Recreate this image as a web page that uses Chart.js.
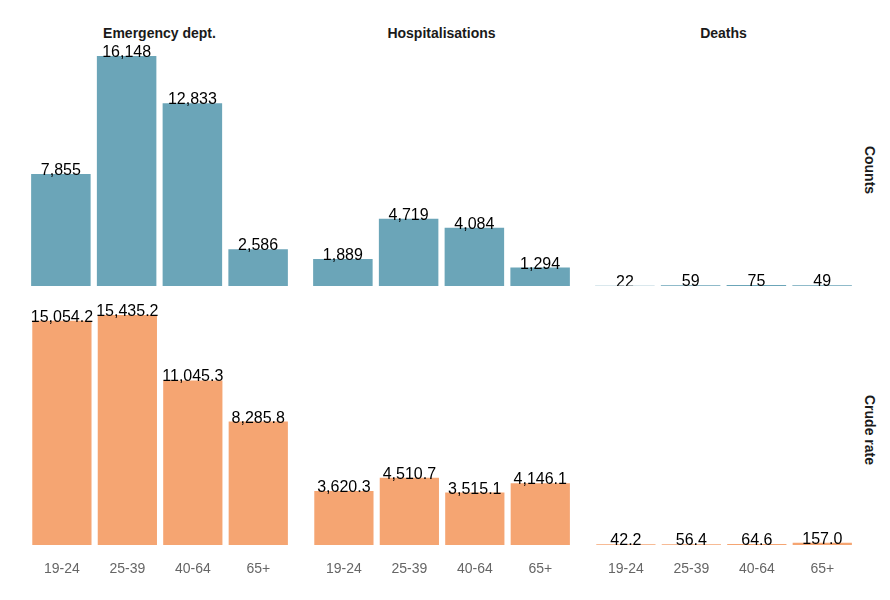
<!DOCTYPE html>
<html>
<head>
<meta charset="utf-8">
<script src="https://cdn.jsdelivr.net/npm/chart.js@4/dist/chart.umd.min.js"></script>
<style>
  body { margin: 0; background: #fff; font-family: "Liberation Sans", Arial, sans-serif; }
  #wrap { position: relative; width: 890px; height: 600px; }
  .panel { position: absolute; width: 263px; }
  .title { position: absolute; width: 263px; text-align: center; font-weight: bold; font-size: 14px; color: #1a1a1a; top: 25px; }
  .strip { position: absolute; font-weight: bold; font-size: 14px; color: #1a1a1a; transform: rotate(90deg); transform-origin: center; white-space: nowrap; width: 100px; text-align: center; left: 820px; }
</style>
</head>
<body>
<div id="wrap">
  <div class="title" style="left:28px">Emergency dept.</div>
  <div class="title" style="left:310px">Hospitalisations</div>
  <div class="title" style="left:592px">Deaths</div>
  <div class="strip" style="top:162px">Counts</div>
  <div class="strip" style="top:422px">Crude rate</div>

  <div class="panel" style="left:28px;top:44px;height:242px"><canvas id="c1"></canvas></div>
  <div class="panel" style="left:310px;top:44px;height:242px"><canvas id="c2"></canvas></div>
  <div class="panel" style="left:592px;top:44px;height:242px"><canvas id="c3"></canvas></div>
  <div class="panel" style="left:28px;top:303px;height:280px"><canvas id="c4"></canvas></div>
  <div class="panel" style="left:310px;top:303px;height:280px"><canvas id="c5"></canvas></div>
  <div class="panel" style="left:592px;top:303px;height:280px"><canvas id="c6"></canvas></div>
</div>
<script>
var ageGroups = ["19-24", "25-39", "40-64", "65+"];

var edCounts = [7855, 16148, 12833, 2586];
var hospCounts = [1889, 4719, 4084, 1294];
var deathCounts = [22, 59, 75, 49];

var edRates = [15054.2, 15435.2, 11045.3, 8285.8];
var hospRates = [3620.3, 4510.7, 3515.1, 4146.1];
var deathRates = [42.2, 56.4, 64.6, 157.0];

var countColor = "#6ba5b8";
var rateColor = "#f5a572";

// draws the number on top of each bar
var valueLabels = {
    id: "valueLabels",
    afterDatasetsDraw: function(chart, args, opts) {
        var ctx = chart.ctx;
        var meta = chart.getDatasetMeta(0);
        var values = chart.data.datasets[0].data;
        ctx.save();
        ctx.font = '16px "Liberation Sans", Arial, sans-serif';
        ctx.fillStyle = "#000";
        ctx.textAlign = "center";
        ctx.textBaseline = "alphabetic";
        meta.data.forEach(function(bar, i) {
            var txt = values[i].toLocaleString("en-US", {
                minimumFractionDigits: opts.decimals,
                maximumFractionDigits: opts.decimals
            });
            ctx.fillText(txt, bar.x, bar.y + 1);
        });
        ctx.restore();
    }
};

function makePanel(id, values, color, yMax, showAxis, decimals) {
    var xScale = {
        display: showAxis,
        grid: { display: false, drawTicks: false },
        border: { display: false },
        ticks: {
            color: "#666",
            padding: 16,
            font: { size: 14, family: '"Liberation Sans", Arial, sans-serif' }
        }
    };
    if (showAxis) {
        xScale.afterFit = function(axis) { axis.height = 38; };
    }
    new Chart(document.getElementById(id), {
        type: "bar",
        data: {
            labels: ageGroups,
            datasets: [{
                data: values,
                backgroundColor: color,
                borderWidth: 0,
                categoryPercentage: 1,
                barPercentage: 0.905
            }]
        },
        options: {
            responsive: true,
            maintainAspectRatio: false,
            animation: false,
            layout: { padding: 0 },
            plugins: {
                legend: { display: false },
                tooltip: { enabled: false },
                valueLabels: { decimals: decimals }
            },
            scales: {
                x: xScale,
                y: {
                    display: false,
                    min: 0,
                    max: yMax
                }
            }
        },
        plugins: [valueLabels]
    });
}

makePanel("c1", edCounts, countColor, 16991, false, 0);
makePanel("c2", hospCounts, countColor, 16991, false, 0);
makePanel("c3", deathCounts, countColor, 16991, false, 0);
makePanel("c4", edRates, rateColor, 16240, true, 1);
makePanel("c5", hospRates, rateColor, 16240, true, 1);
makePanel("c6", deathRates, rateColor, 16240, true, 1);
</script>
</body>
</html>
